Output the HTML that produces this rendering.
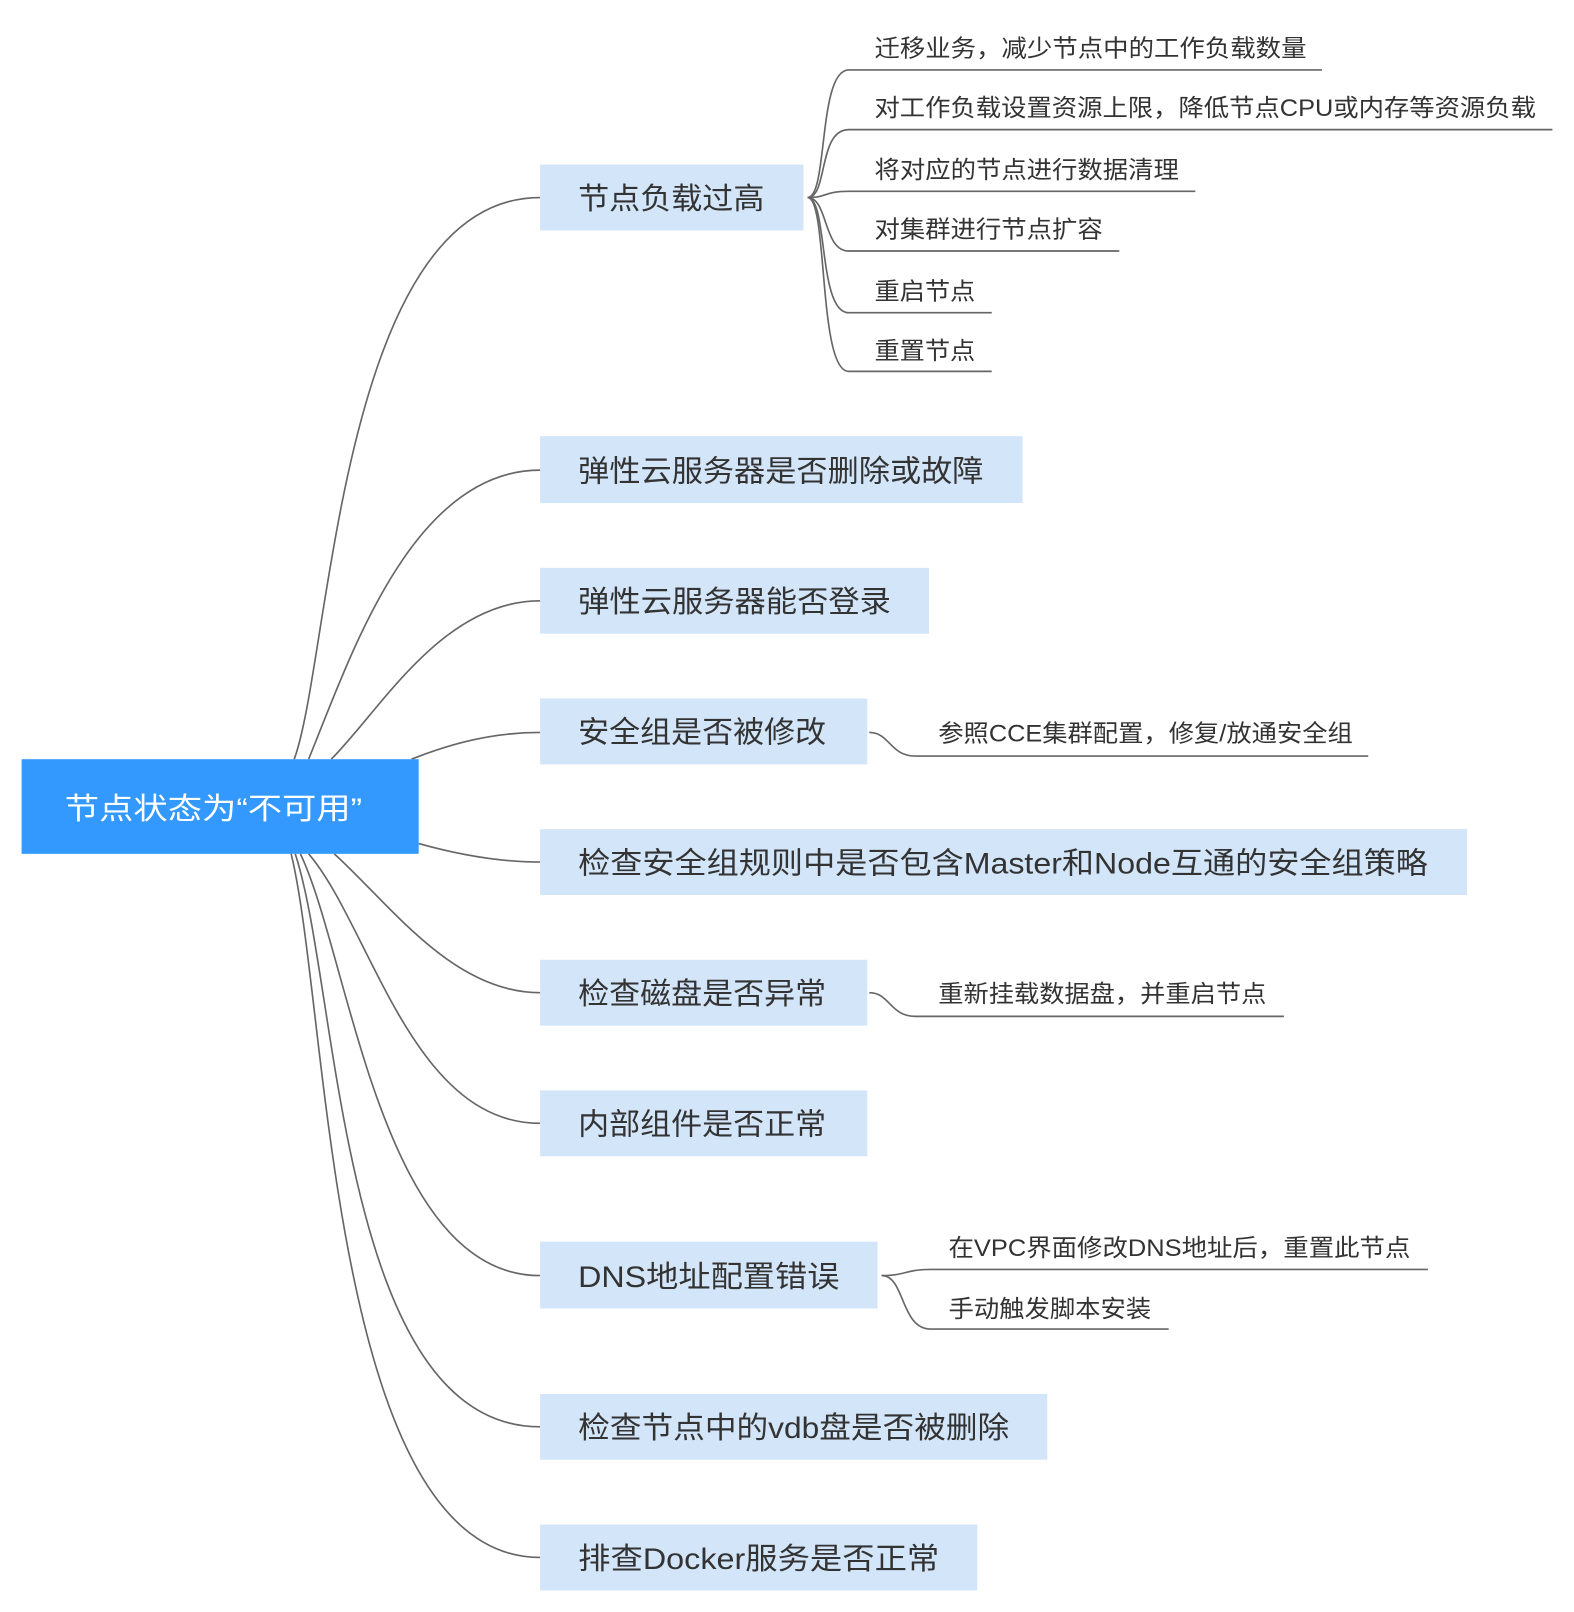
<!DOCTYPE html>
<html><head><meta charset="utf-8"><style>
html,body{margin:0;padding:0;background:#fff;}
svg{display:block;}
text{font-family:"Liberation Sans","Noto Sans CJK SC",sans-serif;fill:#333;}
</style></head><body>
<svg width="1574" height="1612" viewBox="0 0 1530 1567" preserveAspectRatio="none" xmlns="http://www.w3.org/2000/svg">
<g fill="none" stroke="#666" stroke-width="1.6">
<path d="M286 738 C322 640 330 192 525 192"/>
<path d="M300 738 C340 640 400 457 525 457"/>
<path d="M322 738 C370 690 430 584 525 584"/>
<path d="M400 738 C440 722 480 712 525 712"/>
<path d="M407 820 C450 832 490 838 525 838"/>
<path d="M325 830 C380 880 440 965 525 965"/>
<path d="M300 830 C360 900 400 1092 525 1092"/>
<path d="M292 830 C340 930 370 1240 525 1240"/>
<path d="M287 830 C330 960 330 1387 525 1387"/>
<path d="M283 830 C320 980 320 1514 525 1514"/>
<path d="M785 192 C805 192 795 68 825 68 L1285 68"/>
<path d="M785 192 C805 192 795 126 825 126 L1509 126"/>
<path d="M785 192 C805 192 800 186 825 186 L1162 186"/>
<path d="M785 192 C805 192 800 244 825 244 L1088 244"/>
<path d="M785 192 C805 192 795 304 825 304 L964 304"/>
<path d="M785 192 C805 192 795 361 825 361 L964 361"/>
<path d="M845 712 C865 712 865 735 890 735 L1330 735"/>
<path d="M845 965 C865 965 865 988 890 988 L1248 988"/>
<path d="M857 1240 C880 1240 880 1234 905 1234 L1388 1234"/>
<path d="M857 1240 C880 1240 875 1292 905 1292 L1136 1292"/>
</g>
<rect x="21" y="738" width="386" height="92" fill="#3399ff"/>
<text x="63" y="796" font-size="29" style="fill:#fff" textLength="289" lengthAdjust="spacingAndGlyphs">节点状态为“不可用”</text>
<g fill="#d3e5f8">
<rect x="525" y="160" width="256" height="64"/>
<rect x="525" y="424" width="469" height="65"/>
<rect x="525" y="552" width="378" height="64"/>
<rect x="525" y="679" width="318" height="64"/>
<rect x="525" y="806" width="901" height="64"/>
<rect x="525" y="933" width="318" height="64"/>
<rect x="525" y="1060" width="318" height="64"/>
<rect x="525" y="1207" width="328" height="65"/>
<rect x="525" y="1355" width="493" height="64"/>
<rect x="525" y="1482" width="425" height="64"/>
</g>
<g font-size="29" lengthAdjust="spacingAndGlyphs">
<text x="562" y="203" textLength="181" lengthAdjust="spacingAndGlyphs">节点负载过高</text>
<text x="562" y="468" textLength="394" lengthAdjust="spacingAndGlyphs">弹性云服务器是否删除或故障</text>
<text x="562" y="595" textLength="304" lengthAdjust="spacingAndGlyphs">弹性云服务器能否登录</text>
<text x="562" y="722" textLength="241" lengthAdjust="spacingAndGlyphs">安全组是否被修改</text>
<text x="562" y="849" textLength="826" lengthAdjust="spacingAndGlyphs">检查安全组规则中是否包含Master和Node互通的安全组策略</text>
<text x="562" y="976" textLength="241" lengthAdjust="spacingAndGlyphs">检查磁盘是否异常</text>
<text x="562" y="1103" textLength="241" lengthAdjust="spacingAndGlyphs">内部组件是否正常</text>
<text x="562" y="1251" textLength="254" lengthAdjust="spacingAndGlyphs">DNS地址配置错误</text>
<text x="562" y="1398" textLength="419" lengthAdjust="spacingAndGlyphs">检查节点中的vdb盘是否被删除</text>
<text x="562" y="1525" textLength="351" lengthAdjust="spacingAndGlyphs">排查Docker服务是否正常</text>
</g>
<g font-size="23">
<text x="850" y="55" textLength="420" lengthAdjust="spacingAndGlyphs">迁移业务，减少节点中的工作负载数量</text>
<text x="850" y="113" textLength="643" lengthAdjust="spacingAndGlyphs">对工作负载设置资源上限，降低节点CPU或内存等资源负载</text>
<text x="850" y="173" textLength="296" lengthAdjust="spacingAndGlyphs">将对应的节点进行数据清理</text>
<text x="850" y="231" textLength="222" lengthAdjust="spacingAndGlyphs">对集群进行节点扩容</text>
<text x="850" y="291" textLength="98" lengthAdjust="spacingAndGlyphs">重启节点</text>
<text x="850" y="349" textLength="98" lengthAdjust="spacingAndGlyphs">重置节点</text>
<text x="912" y="721" textLength="403" lengthAdjust="spacingAndGlyphs">参照CCE集群配置，修复/放通安全组</text>
<text x="912" y="974" textLength="319" lengthAdjust="spacingAndGlyphs">重新挂载数据盘，并重启节点</text>
<text x="922" y="1221" textLength="449" lengthAdjust="spacingAndGlyphs">在VPC界面修改DNS地址后，重置此节点</text>
<text x="922" y="1280" textLength="197" lengthAdjust="spacingAndGlyphs">手动触发脚本安装</text>
</g>
</svg>
</body></html>
